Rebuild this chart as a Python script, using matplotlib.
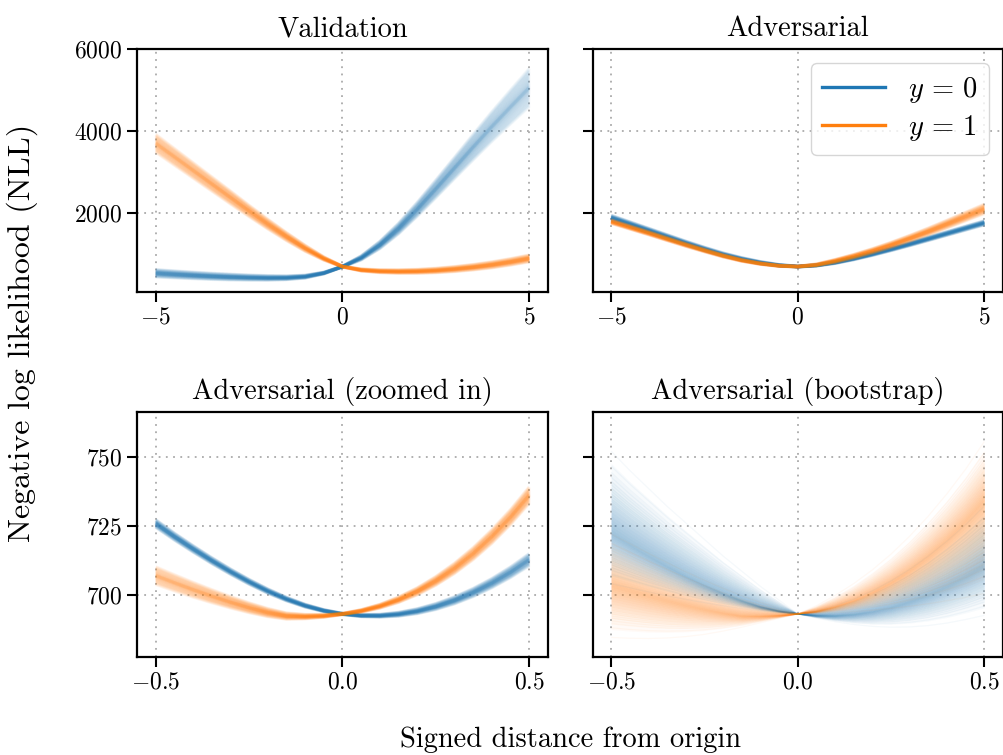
import numpy as np
import matplotlib
matplotlib.use("Agg")
import matplotlib.pyplot as plt

plt.rcParams.update({
    "font.family": "serif",
    "font.serif": ["cmr10", "DejaVu Serif"],
    "mathtext.fontset": "cm",
    "axes.formatter.use_mathtext": True,
    "axes.unicode_minus": True,
})

# ---------------- data ----------------
x_wide = [-5, -4.5, -4, -3.5, -3, -2.5, -2, -1.5, -1, -0.5, 0,
          0.5, 1, 1.5, 2, 2.5, 3, 3.5, 4, 4.5, 5]
x_zoom = [-0.5, -0.45, -0.4, -0.35, -0.3, -0.25, -0.2, -0.15, -0.1, -0.05, 0.0,
          0.05, 0.1, 0.15, 0.2, 0.25, 0.3, 0.35, 0.4, 0.45, 0.5]

# Validation panel (centre of band and half-width of band)
val_y0 = [530, 503, 478, 456, 438, 425, 417, 420, 448, 535, 693,
          905, 1220, 1620, 2090, 2590, 3100, 3610, 4110, 4590, 5060]
val_y0_hw = [90, 85, 80, 75, 70, 62, 55, 45, 35, 20, 8,
             50, 90, 130, 170, 215, 260, 310, 360, 410, 460]
val_y1 = [3700, 3370, 3040, 2710, 2380, 2050, 1730, 1425, 1140, 890, 693,
          610, 580, 572, 578, 598, 632, 678, 736, 808, 892]
val_y1_hw = [220, 205, 190, 175, 160, 140, 120, 100, 75, 40, 8,
             25, 35, 42, 48, 55, 62, 68, 75, 80, 85]

# Adversarial panel
adv_y0 = [1890, 1735, 1580, 1425, 1270, 1125, 990, 880, 790, 725, 693,
          722, 790, 885, 995, 1115, 1240, 1370, 1500, 1630, 1760]
adv_y0_hw = [55, 52, 50, 47, 44, 40, 36, 30, 24, 16, 8,
             14, 20, 25, 30, 34, 38, 42, 45, 48, 50]
adv_y1 = [1790, 1650, 1510, 1365, 1222, 1085, 955, 845, 765, 712, 693,
          735, 830, 945, 1075, 1220, 1380, 1550, 1730, 1915, 2100]
adv_y1_hw = [45, 43, 41, 38, 35, 31, 27, 22, 17, 12, 8,
             20, 35, 45, 55, 65, 75, 85, 95, 105, 115]

# Adversarial (zoomed in)
zoom_y0 = [725.9, 721.15, 716.7, 712.45, 708.45, 704.75, 701.4, 698.5, 696.1, 694.3, 693.1,
           692.5, 692.47, 693.0, 694.1, 695.8, 698.05, 700.9, 704.3, 708.25, 712.8]
zoom_y0_hw = [1.4, 1.3, 1.2, 1.1, 1.0, 0.9, 0.8, 0.65, 0.5, 0.35, 0.2,
              0.35, 0.5, 0.7, 0.9, 1.1, 1.3, 1.5, 1.7, 1.95, 2.2]
zoom_y1 = [707.0, 704.4, 701.9, 699.55, 697.35, 695.35, 693.6, 692.35, 692.15, 692.4, 693.1,
           694.2, 695.9, 698.25, 701.3, 705.1, 709.65, 715.0, 721.2, 728.25, 736.2]
zoom_y1_hw = [3.2, 2.95, 2.7, 2.4, 2.1, 1.8, 1.5, 1.15, 0.8, 0.5, 0.2,
              0.45, 0.7, 1.0, 1.3, 1.6, 1.9, 2.2, 2.5, 2.75, 3.0]

# Adversarial (bootstrap): centre, upper and lower envelope of the fan
boot_y0_mid = [722.6, 718.3, 714.3, 710.5, 706.9, 703.6, 700.6, 698.0, 695.8, 694.2, 693.1,
               692.56, 692.53, 693.0, 694.0, 695.5, 697.6, 700.1, 703.2, 706.7, 710.8]
boot_y0_hi = [752.1, 745.1, 738.6, 732.1, 726.1, 720.1, 714.1, 708.6, 703.1, 698.1, 693.1,
              694.3, 696.1, 698.5, 701.5, 705.1, 709.3, 714.1, 719.5, 725.5, 732.1]
boot_y0_lo = [704.1, 702.6, 701.1, 699.7, 698.4, 697.2, 696.1, 695.1, 694.2, 693.5, 693.1,
              691.6, 690.3, 689.3, 688.6, 688.3, 688.4, 688.9, 689.8, 691.1, 692.6]
boot_y1_mid = [703.5, 701.6, 699.7, 697.9, 696.3, 694.8, 693.5, 692.5, 692.4, 692.6, 693.1,
               694.1, 695.8, 698.0, 700.9, 704.5, 708.8, 713.9, 719.8, 726.5, 734.0]
boot_y1_hi = [722.1, 718.6, 715.1, 711.7, 708.4, 705.3, 702.4, 699.7, 697.3, 695.1, 693.1,
              696.1, 699.8, 704.1, 709.1, 714.8, 721.3, 728.6, 736.7, 745.6, 755.6]
boot_y1_lo = [684.6, 684.3, 684.2, 684.4, 684.9, 685.7, 686.9, 688.3, 689.9, 691.5, 693.1,
              693.3, 693.6, 694.0, 694.5, 695.1, 695.9, 696.8, 697.9, 699.1, 700.5]

titles = ["Validation", "Adversarial", "Adversarial (zoomed in)", "Adversarial (bootstrap)"]
wide_ticks = [-5, 0, 5]
zoom_ticks = [-0.5, 0.0, 0.5]
zoom_ticklabels = [r"$-0.5$", r"$0.0$", r"$0.5$"]
top_yticks = [2000, 4000, 6000]
bot_yticks = [700, 725, 750]
legend_labels = [r"$y \,=\, 0$", r"$y \,=\, 1$"]

C0 = "#1f77b4"
C1 = "#ff7f0e"


def spread_positions(n, kind="power", power=1.5):
    t = np.linspace(-1, 1, n)
    if kind == "triangular":
        return np.sign(t) * (1 - np.sqrt(1 - np.abs(t)))
    return np.sign(t) * np.abs(t) ** power


def draw_lines(ax, x, mid, lo, hi, color, q, alpha, lw):
    x = np.asarray(x, float)
    mid = np.asarray(mid, float)
    lo = np.asarray(lo, float)
    hi = np.asarray(hi, float)
    for qi in q:
        if qi >= 0:
            y = mid + qi * (hi - mid)
        else:
            y = mid + (-qi) * (lo - mid)
        ax.plot(x, y, color=color, alpha=alpha, lw=lw, solid_capstyle="butt",
                solid_joinstyle="round")


def band_from_hw(ax, x, mid, hw, color, n=41, alpha=0.06, lw=2.4, power=1.4):
    mid = np.asarray(mid, float)
    hw = np.asarray(hw, float)
    draw_lines(ax, x, mid, mid - hw, mid + hw, color,
               spread_positions(n, "power", power), alpha, lw)


def draw_fan(ax, x, mid, lo, hi, color, layers=14, alpha=0.032,
             n_lines=60, line_alpha=0.045, line_lw=0.9):
    xa = np.asarray(x, float)
    mid_a = np.asarray(mid, float)
    lo_a = np.asarray(lo, float)
    hi_a = np.asarray(hi, float)
    qmax = 1 - np.sqrt(1 - layers / (layers + 1))
    for k in range(1, layers + 1):
        q = (1 - np.sqrt(1 - k / (layers + 1))) / qmax * 0.85
        ax.fill_between(xa, mid_a + q * (lo_a - mid_a), mid_a + q * (hi_a - mid_a),
                        color=color, alpha=alpha, lw=0)
    draw_lines(ax, x, mid, lo, hi, color,
               spread_positions(n_lines, "triangular"), line_alpha, line_lw)


fig = plt.figure(figsize=(10.04, 7.55), dpi=100)
W, H = 1004.0, 755.0


def axes_px(l, t, r, b):
    return fig.add_axes([l / W, 1 - b / H, (r - l) / W, (b - t) / H])


ax_tl = axes_px(137, 49, 548, 292)
ax_tr = axes_px(592.5, 49, 1003, 292)
ax_bl = axes_px(137, 412, 548, 657)
ax_br = axes_px(592.5, 412, 1003, 657)
axes = [ax_tl, ax_tr, ax_bl, ax_br]

band_from_hw(ax_tl, x_wide, val_y0, val_y0_hw, C0)
band_from_hw(ax_tl, x_wide, val_y1, val_y1_hw, C1)
band_from_hw(ax_tr, x_wide, adv_y0, adv_y0_hw, C0)
band_from_hw(ax_tr, x_wide, adv_y1, adv_y1_hw, C1)
band_from_hw(ax_bl, x_zoom, zoom_y0, zoom_y0_hw, C0)
band_from_hw(ax_bl, x_zoom, zoom_y1, zoom_y1_hw, C1)
draw_fan(ax_br, x_zoom, boot_y0_mid, boot_y0_lo, boot_y0_hi, C0)
draw_fan(ax_br, x_zoom, boot_y1_mid, boot_y1_lo, boot_y1_hi, C1)

for ax, title in zip(axes, titles):
    ax.set_title(title, fontsize=20.5, pad=9)
    ax.grid(True, linestyle=(0, (1, 3)), color="#aaaaaa", linewidth=1.3)
    ax.set_axisbelow(True)
    for s in ax.spines.values():
        s.set_linewidth(1.6)
    ax.tick_params(labelsize=17, width=1.5, length=7, direction="out")

for ax in (ax_tl, ax_tr):
    ax.set_xlim(-5.5, 5.5)
    ax.set_ylim(73, 6000)
    ax.set_xticks(wide_ticks)
    ax.set_yticks(top_yticks)
for ax in (ax_bl, ax_br):
    ax.set_xlim(-0.55, 0.55)
    ax.set_ylim(677.5, 766.3)
    ax.set_xticks(zoom_ticks)
    ax.set_xticklabels(zoom_ticklabels)
    ax.set_yticks(bot_yticks)
ax_tr.tick_params(labelleft=False)
ax_br.tick_params(labelleft=False)

h0, = ax_tr.plot([], [], color=C0, lw=2.4)
h1, = ax_tr.plot([], [], color=C1, lw=2.4)
ax_tr.legend([h0, h1], legend_labels, loc="upper right", fontsize=20.5,
             handlelength=2.2, borderpad=0.4, labelspacing=0.3,
             handletextpad=0.8, framealpha=0.8, edgecolor="#cccccc")

fig.text(570 / W, 1 - 740 / H, "Signed distance from origin", ha="center",
         va="center", fontsize=20.5)
fig.text(22 / W, 1 - 333 / H, "Negative log likelihood (NLL)", ha="center",
         va="center", rotation=90, fontsize=23)

fig.savefig("out.png", dpi=100)
